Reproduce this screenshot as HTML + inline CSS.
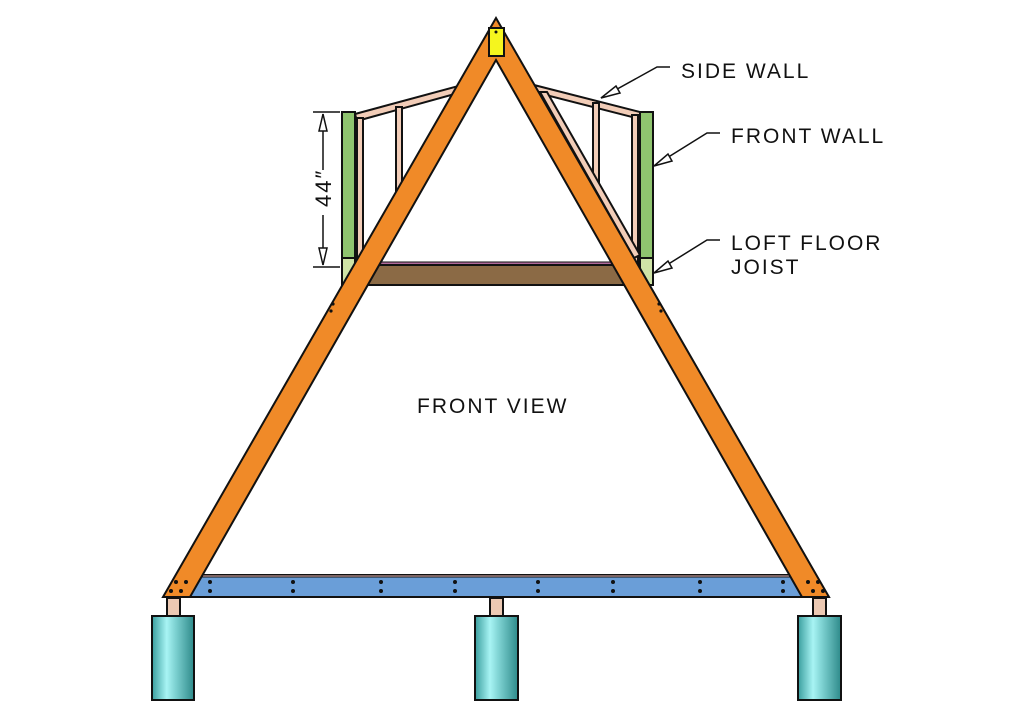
<!DOCTYPE html>
<html><head><meta charset="utf-8"><style>
html,body{margin:0;padding:0;background:#fff;}
svg{display:block;}
text{font-family:"Liberation Sans",sans-serif;font-size:21px;letter-spacing:2px;fill:#111;}
</style></head><body>
<svg width="1024" height="717" viewBox="0 0 1024 717" xmlns="http://www.w3.org/2000/svg">
<defs>
<linearGradient id="cyl" x1="0" x2="1" y1="0" y2="0">
<stop offset="0" stop-color="#3a9e9e"/><stop offset="0.35" stop-color="#a8f4f4"/><stop offset="0.55" stop-color="#7fd3d3"/><stop offset="1" stop-color="#2e8a8a"/>
</linearGradient>
</defs>
<g stroke="#111" stroke-width="2">
<!-- side wall frames (pink) -->
<g fill="#f2cdb8">
<polygon points="355,114 462,85 462,92 357,121"/>
<rect x="357" y="118" width="6" height="150"/>
<rect x="396" y="107" width="6" height="110"/>
<polygon points="452,95 459,95 366,262 359,259"/>
<polygon points="534,85 640,112 640,119 534,92"/>
<rect x="632" y="115" width="6" height="150"/>
<rect x="593" y="103" width="6" height="110"/>
<polygon points="540,92 547,92 640,255 634,258"/>
</g>
<!-- green front wall posts -->
<rect x="342" y="112" width="13" height="173" fill="#8fc46f"/>
<rect x="640" y="112" width="13" height="173" fill="#8fc46f"/>
<rect x="342" y="258" width="13" height="27" fill="#cfe4a6"/>
<rect x="640" y="258" width="13" height="27" fill="#cfe4a6"/>
<!-- loft floor -->
<rect x="360" y="262" width="276" height="3" fill="#b06a9a" stroke-width="1"/>
<rect x="360" y="265" width="276" height="20" fill="#8b6a45"/>
<!-- beam -->
<rect x="186" y="575" width="621" height="22" fill="#6a9ed8"/>
<rect x="186" y="575" width="621" height="2" fill="#e7b9b9" stroke-width="1"/>
<!-- posts -->
<rect x="167" y="598" width="13" height="18" fill="#ecc9b3"/>
<rect x="490" y="598" width="13" height="18" fill="#ecc9b3"/>
<rect x="813" y="598" width="13" height="18" fill="#ecc9b3"/>
<!-- cylinders -->
<rect x="152" y="616" width="42" height="84" fill="url(#cyl)"/>
<rect x="475" y="616" width="43" height="84" fill="url(#cyl)"/>
<rect x="798" y="616" width="43" height="84" fill="url(#cyl)"/>
<!-- rafters -->
<polygon points="496,18 163,597 190,597 496,60 802,597 829,597" fill="#f08a28" stroke-linejoin="miter"/>
<rect x="489" y="28" width="15" height="28" fill="#f5f51e"/>
</g>
<!-- dots -->
<g fill="#111">
<circle cx="496" cy="32" r="1.5"/>
<circle cx="333" cy="304" r="1.6"/><circle cx="331" cy="311" r="1.6"/>
<circle cx="659" cy="304" r="1.6"/><circle cx="661" cy="311" r="1.6"/>
<circle cx="176" cy="582" r="2"/><circle cx="186" cy="582" r="2"/><circle cx="171" cy="591" r="2"/><circle cx="181" cy="591" r="2"/>
<circle cx="808" cy="582" r="2"/><circle cx="818" cy="582" r="2"/><circle cx="813" cy="591" r="2"/><circle cx="823" cy="591" r="2"/>
<circle cx="210" cy="582" r="2"/><circle cx="210" cy="591" r="2"/>
<circle cx="293" cy="582" r="2"/><circle cx="293" cy="591" r="2"/>
<circle cx="381" cy="582" r="2"/><circle cx="381" cy="591" r="2"/>
<circle cx="455" cy="582" r="2"/><circle cx="455" cy="591" r="2"/>
<circle cx="538" cy="582" r="2"/><circle cx="538" cy="591" r="2"/>
<circle cx="613" cy="582" r="2"/><circle cx="613" cy="591" r="2"/>
<circle cx="700" cy="582" r="2"/><circle cx="700" cy="591" r="2"/>
<circle cx="783" cy="582" r="2"/><circle cx="783" cy="591" r="2"/>
</g>
<!-- dimension -->
<g stroke="#111" stroke-width="1.5" fill="none">
<line x1="313" y1="112" x2="340" y2="112"/>
<line x1="313" y1="267" x2="340" y2="267"/>
<line x1="323" y1="114" x2="323" y2="170"/>
<line x1="323" y1="215" x2="323" y2="265"/>
<polygon points="323,114 319,131 327,131" fill="#fff"/>
<polygon points="323,265 319,248 327,248" fill="#fff"/>
</g>
<text x="0" y="0" transform="translate(331,207) rotate(-90)" style="letter-spacing:2px;font-size:22px">44″</text>
<!-- leaders -->
<g stroke="#111" stroke-width="1.5" fill="none">
<polyline points="670,67 657,67 601,98"/>
<polygon points="601,98 616,86 620,93" fill="#fff"/>
<polyline points="720,133 707,133 654,166"/>
<polygon points="654,166 668,154 672,161" fill="#fff"/>
<polyline points="720,240 707,240 654,273"/>
<polygon points="654,273 668,261 672,268" fill="#fff"/>
</g>
<text x="681" y="78">SIDE WALL</text>
<text x="731" y="143">FRONT WALL</text>
<text x="731" y="250">LOFT FLOOR</text>
<text x="731" y="274">JOIST</text>
<text x="417" y="413">FRONT VIEW</text>
</svg>
</body></html>
